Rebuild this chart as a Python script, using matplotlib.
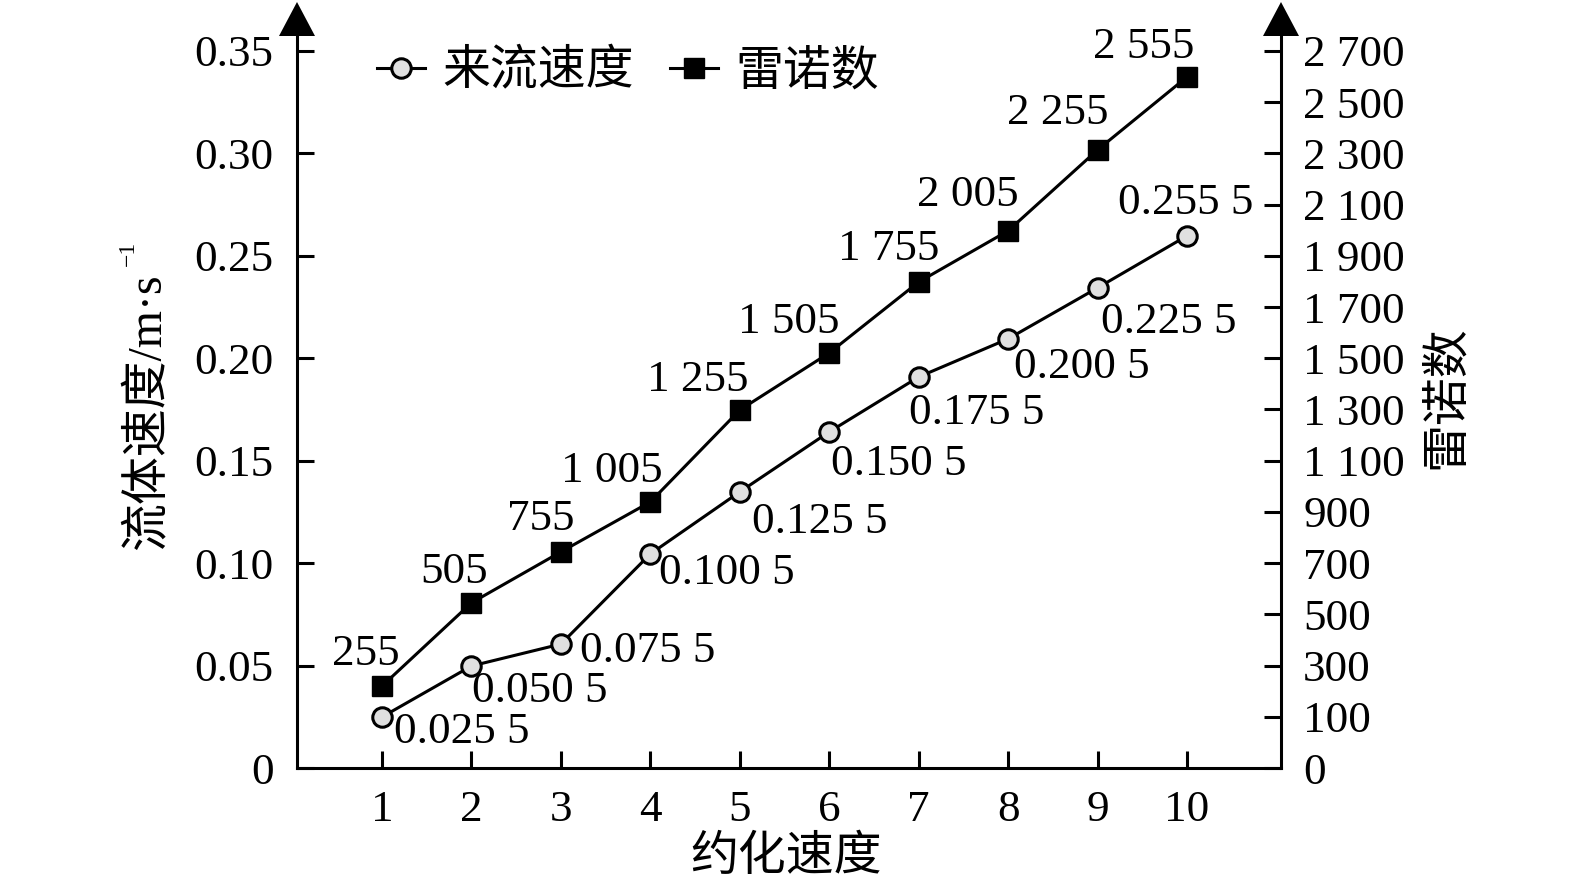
import numpy as np
import matplotlib
matplotlib.use("Agg")
import matplotlib.pyplot as plt
from matplotlib.patches import Polygon
from matplotlib.ticker import NullLocator, FixedLocator, FixedFormatter

# ---------------- data ----------------
x_vals = [1, 2, 3, 4, 5, 6, 7, 8, 9, 10]
# 来流速度 (plotted heights, m/s)
speed_vals = [0.0249, 0.0498, 0.0605, 0.1045, 0.1348, 0.1641, 0.1909, 0.2095, 0.2344, 0.2598]
speed_labels = ['0.025 5', '0.050 5', '0.075 5', '0.100 5', '0.125 5',
                '0.150 5', '0.175 5', '0.200 5', '0.225 5', '0.255 5']
# 雷诺数 (plotted heights, in right-axis label units)
re_vals = [220, 545, 744, 939, 1298, 1521, 1798, 1998, 2314, 2599]
re_labels = ['255', '505', '755', '1 005', '1 255', '1 505', '1 755', '2 005', '2 255', '2 555']
left_ticks = [0, 0.05, 0.10, 0.15, 0.20, 0.25, 0.30, 0.35]
left_ticklabels = ['0', '0.05', '0.10', '0.15', '0.20', '0.25', '0.30', '0.35']
right_ticks = [0, 100, 300, 500, 700, 900, 1100, 1300, 1500, 1700, 1900, 2100, 2300, 2500, 2700]
right_ticklabels = [f'{v:,}'.replace(',', ' ') for v in right_ticks]

# ---------------- layout (pixel offsets of value labels) ----------------
speed_offsets = [(12, -15), (1, -25), (19, -7), (9, -19), (12, -30),
                 (2, -32), (-10, -36), (6, -28), (3, -34), (-1, 33)]
speed_ha = ['left'] * 9 + ['center']
re_offsets = [(18, 32), (16, 31), (14, 33), (12, 31), (9, 30),
              (10, 31), (21, 33), (10, 36), (11, 37), (7, 30)]

# ---------------- style ----------------
W, H = 1575, 888
plt.rcParams['font.family'] = ['Liberation Serif', 'Noto Sans CJK SC']
NUM_FS = 32.5
CJK_FS = 34.5
LW = 2.2

fig = plt.figure(figsize=(W / 100, H / 100), dpi=100)
ax = fig.add_axes([297 / W, 120 / H, 984 / W, 733 / H])
ax2 = ax.twinx()

ax.set_xlim(0.05, 11.05)
ytop = 0.35 * 733 / 717
ax.set_ylim(0, ytop)


def fwd(v):
    v = np.asarray(v, dtype=float)
    return np.where(v <= 100, 2 * v, v + 100)


def inv(p):
    p = np.asarray(p, dtype=float)
    return np.where(p <= 200, p / 2, p - 100)


ax2.set_yscale('function', functions=(fwd, inv))
ax2.set_ylim(0, float(inv(2800 * 733 / 717)))

# series
l1, = ax.plot(x_vals, speed_vals, '-', color='black', lw=2.2, marker='o', ms=14,
              mfc='#e0e0e0', mec='black', mew=2.2, zorder=3, label='来流速度')
l2, = ax2.plot(x_vals, re_vals, '-', color='black', lw=2.2, marker='s', ms=15,
               mfc='black', mec='black', mew=1, zorder=3, label='雷诺数')

for xv, yv, t, (dx, dy), ha in zip(x_vals, speed_vals, speed_labels, speed_offsets, speed_ha):
    ax.annotate(t, (xv, yv), xytext=(dx, dy), textcoords='offset pixels',
                ha=ha, va='center', fontsize=NUM_FS)
for xv, yv, t, (dx, dy) in zip(x_vals, re_vals, re_labels, re_offsets):
    ax2.annotate(t, (xv, yv), xytext=(dx, dy), textcoords='offset pixels',
                 ha='right', va='center', fontsize=NUM_FS)

# spines
for a in (ax, ax2):
    a.spines['top'].set_visible(False)
    for s in ('left', 'right', 'bottom'):
        a.spines[s].set_linewidth(LW)
ax.spines['right'].set_visible(False)
ax2.spines['left'].set_visible(False)
ax2.spines['bottom'].set_visible(False)

# ticks
ax.set_xticks(x_vals)
ax.set_xticklabels([str(v) for v in x_vals])
ax.set_yticks(left_ticks)
ax.set_yticklabels(left_ticklabels)
ax.tick_params(axis='both', direction='in', length=12, width=LW, labelsize=NUM_FS)
ax.tick_params(axis='y', pad=17)
ax.tick_params(axis='x', pad=16)
ax2.yaxis.set_major_locator(FixedLocator(right_ticks))
ax2.yaxis.set_major_formatter(FixedFormatter(right_ticklabels))
ax2.yaxis.set_minor_locator(NullLocator())
ax2.tick_params(axis='y', direction='in', length=12, width=LW, labelsize=NUM_FS, pad=16)

# axis labels
fig.text(786 / W, 1 - 858 / H, '约化速度', fontsize=CJK_FS, ha='center', va='center')
ylab = fig.text(148 / W, 1 - 412 / H, '流体速度/m·s', fontsize=CJK_FS, rotation=90,
                ha='center', va='center')
fig.canvas.draw()
yb = ylab.get_window_extent()
fig.text((yb.x0 + 13) / W, (yb.y1 + 8) / H, '\u22121', fontsize=17, rotation=90,
         ha='right', va='bottom')
fig.text(1447 / W, 1 - 397 / H, '雷诺数', fontsize=CJK_FS, rotation=90,
         ha='center', va='center')

# legend
fig.legend(handles=[l1, l2], loc='center left', bbox_to_anchor=(377 / W, 1 - 72 / H),
           bbox_transform=fig.transFigure, ncol=2, frameon=False, fontsize=CJK_FS,
           handlelength=1.0, handletextpad=0.37, columnspacing=0.74,
           borderpad=0, borderaxespad=0)

# arrowheads on vertical axes
bb = ax.get_position()
for xf in (bb.x0, bb.x1):
    tri = Polygon([(xf - 18 / W, bb.y1 - 1 / H), (xf + 18 / W, bb.y1 - 1 / H),
                   (xf, bb.y1 + 33 / H)], closed=True, transform=fig.transFigure,
                  facecolor='black', edgecolor='none', clip_on=False)
    fig.add_artist(tri)

fig.savefig('out.png', dpi=100)
